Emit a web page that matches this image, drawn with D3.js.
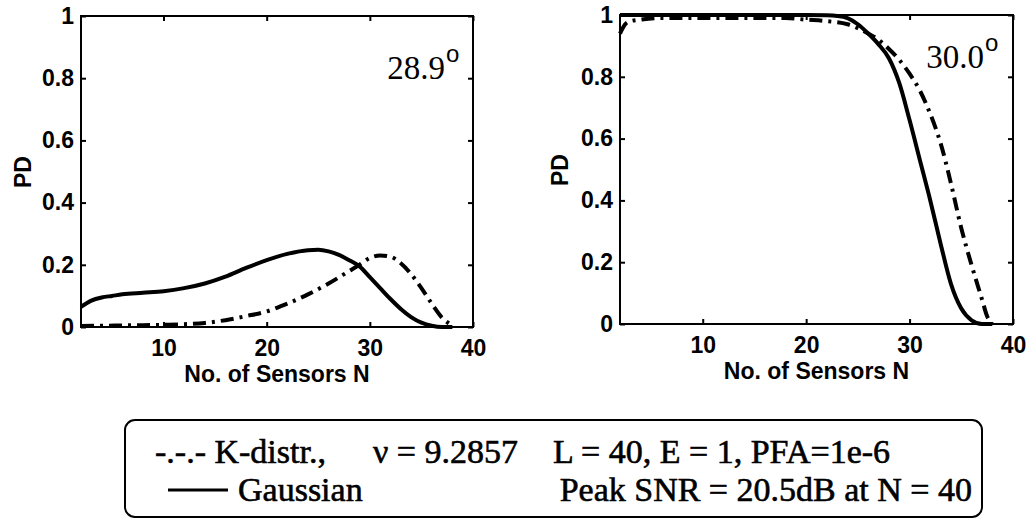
<!DOCTYPE html>
<html>
<head>
<meta charset="utf-8">
<script src="https://cdn.jsdelivr.net/npm/d3@7"></script>
<style>
body { margin: 0; background: #fff; }
.tick-label { font-family: "Liberation Sans", Arial, sans-serif; font-weight: bold; font-size: 23px; fill: #000; }
.axis-title { font-family: "Liberation Sans", Arial, sans-serif; font-weight: bold; font-size: 23px; }
.note { font-family: "Liberation Serif", "Times New Roman", serif; font-size: 33px; }
.degree { font-family: "Liberation Sans", Arial, sans-serif; font-size: 24px; }
.legend-text { font-family: "Liberation Serif", "Times New Roman", serif; font-size: 34px; stroke: #000; stroke-width: 0.6px; }
</style>
</head>
<body>
<div id="chart"></div>
<script>
var sensorTicks = [10, 20, 30, 40];
var pdTicks = [0, 0.2, 0.4, 0.6, 0.8, 1];
var panelAngles = ["28.9", "30.0"];

// 28.9 deg panel
var nGaussLeft = [2, 3, 4, 5, 6, 8, 10, 12, 14, 16, 18, 20, 22, 24, 25, 26, 27, 28, 29, 30, 31, 32, 33, 34, 35, 36, 37, 38];
var pdGaussLeft = [0.065, 0.085, 0.095, 0.1, 0.105, 0.11, 0.115, 0.125, 0.14, 0.162, 0.19, 0.215, 0.235, 0.247, 0.248, 0.243, 0.232, 0.215, 0.195, 0.16, 0.125, 0.09, 0.058, 0.032, 0.014, 0.004, 0, 0];
var nKLeft = [2, 4, 6, 8, 10, 12, 14, 16, 18, 20, 22, 24, 26, 28, 29, 30, 31, 32, 33, 34, 35, 36, 37, 38];
var pdKLeft = [0.003, 0.004, 0.005, 0.006, 0.007, 0.009, 0.013, 0.022, 0.035, 0.05, 0.075, 0.105, 0.14, 0.18, 0.2, 0.222, 0.23, 0.226, 0.205, 0.17, 0.125, 0.075, 0.03, 0.005];

// 30.0 deg panel
var nGaussRight = [2, 4, 6, 8, 10, 12, 14, 16, 18, 20, 22, 23, 24, 25, 26, 27, 28, 29, 30, 31, 32, 33, 34, 35, 36, 37, 38];
var pdGaussRight = [1, 1, 1, 1, 1, 1, 1, 1, 1, 1, 0.999, 0.997, 0.99, 0.97, 0.94, 0.905, 0.86, 0.78, 0.66, 0.53, 0.4, 0.26, 0.13, 0.05, 0.012, 0, 0];
var nKRight = [2, 2.5, 3, 4, 6, 8, 10, 12, 14, 16, 18, 20, 22, 24, 26, 27, 28, 29, 30, 31, 32, 33, 34, 35, 36, 37, 37.5, 38];
var pdKRight = [0.94, 0.97, 0.98, 0.985, 0.99, 0.99, 0.99, 0.99, 0.99, 0.99, 0.99, 0.985, 0.98, 0.97, 0.94, 0.92, 0.89, 0.855, 0.81, 0.755, 0.68, 0.585, 0.455, 0.31, 0.19, 0.08, 0.025, 0];

var legendKLabel = "-.-.- K-distr.,";
var legendNuLabel = "\u03BD = 9.2857";
var legendParams = "L = 40, E = 1, PFA=1e-6";
var legendGaussLabel = "Gaussian";
var legendPeak = "Peak SNR = 20.5dB at N = 40";

var svg = d3.select("#chart")
    .append("svg")
    .attr("width", 1034)
    .attr("height", 519);

function drawPanel(box, gaussN, gaussPD, kN, kPD, angle) {
    var g = svg.append("g")
        .attr("transform", "translate(" + box.x + "," + box.y + ")");

    var xScale = d3.scaleLinear().domain([2, 40]).range([0, box.w]);
    var yScale = d3.scaleLinear().domain([0, 1]).range([box.h, 0]);

    // ticks point inward on all four sides
    g.append("g")
        .attr("transform", "translate(0," + box.h + ")")
        .call(d3.axisBottom(xScale).tickValues(sensorTicks).tickSize(-5).tickPadding(13));
    g.append("g")
        .call(d3.axisLeft(yScale).tickValues(pdTicks).tickSize(-5).tickPadding(7).tickFormat(d3.format("")));
    g.append("g")
        .call(d3.axisTop(xScale).tickValues(sensorTicks).tickSize(-5).tickFormat(""));
    g.append("g")
        .attr("transform", "translate(" + box.w + ",0)")
        .call(d3.axisRight(yScale).tickValues(pdTicks).tickSize(-5).tickFormat(""));

    g.selectAll(".domain").remove();
    g.selectAll(".tick line").attr("stroke", "#000").attr("stroke-width", 2);
    g.selectAll(".tick text").attr("class", "tick-label");

    g.append("rect")
        .attr("width", box.w)
        .attr("height", box.h)
        .attr("fill", "none")
        .attr("stroke", "#000")
        .attr("stroke-width", 2);

    var line = d3.line()
        .x(d => xScale(d[0]))
        .y(d => yScale(d[1]))
        .curve(d3.curveMonotoneX);

    g.append("path")
        .datum(d3.zip(kN, kPD))
        .attr("fill", "none")
        .attr("stroke", "#000")
        .attr("stroke-width", 4)
        .attr("stroke-dasharray", "13,6,3,6")
        .attr("d", line);

    g.append("path")
        .datum(d3.zip(gaussN, gaussPD))
        .attr("fill", "none")
        .attr("stroke", "#000")
        .attr("stroke-width", 4)
        .attr("d", line);

    g.append("text")
        .attr("class", "axis-title")
        .attr("x", box.w / 2)
        .attr("y", box.h + 55)
        .attr("text-anchor", "middle")
        .text("No. of Sensors N");

    g.append("text")
        .attr("class", "axis-title")
        .attr("transform", "translate(" + box.pdX + "," + box.pdY + ") rotate(-90)")
        .attr("text-anchor", "middle")
        .text("PD");

    g.append("text")
        .attr("class", "note")
        .attr("x", box.noteX)
        .attr("y", box.noteY)
        .attr("text-anchor", "end")
        .text(angle);
    g.append("text")
        .attr("class", "degree")
        .attr("x", box.noteX + 1)
        .attr("y", box.noteY - 17)
        .text("o");
}

drawPanel({x: 81, y: 16, w: 392, h: 311, pdX: -50, pdY: 156, noteX: 364, noteY: 63},
          nGaussLeft, pdGaussLeft, nKLeft, pdKLeft, panelAngles[0]);
drawPanel({x: 620, y: 15, w: 393, h: 309, pdX: -52, pdY: 155, noteX: 364, noteY: 53},
          nGaussRight, pdGaussRight, nKRight, pdKRight, panelAngles[1]);

// legend box
var legend = svg.append("g");
legend.append("rect")
    .attr("x", 125)
    .attr("y", 420)
    .attr("width", 857)
    .attr("height", 97)
    .attr("rx", 10)
    .attr("fill", "none")
    .attr("stroke", "#000")
    .attr("stroke-width", 2);

function legendText(str, x, y, anchor) {
    legend.append("text")
        .attr("class", "legend-text")
        .attr("x", x)
        .attr("y", y)
        .attr("text-anchor", anchor || "start")
        .text(str);
}

legendText(legendKLabel, 155, 463);
legendText(legendNuLabel, 373, 463);
legendText(legendParams, 553, 463);
legendText(legendGaussLabel, 238, 501);
legendText(legendPeak, 972, 501, "end");

legend.append("line")
    .attr("x1", 168)
    .attr("x2", 228)
    .attr("y1", 490)
    .attr("y2", 490)
    .attr("stroke", "#000")
    .attr("stroke-width", 3);
</script>
</body>
</html>
